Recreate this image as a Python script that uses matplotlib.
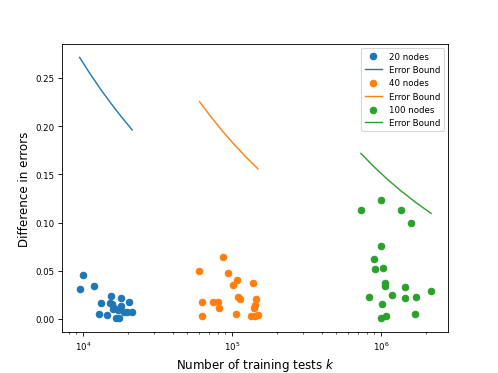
import matplotlib
matplotlib.use("Agg")
import matplotlib.pyplot as plt

# 20 nodes
k20 = [9940, 9540, 11800, 15400, 18100, 13300, 15200, 20400, 16200, 15900,
       17100, 18000, 18900, 19700, 21300, 12800, 14600, 16700, 17500, 15600]
d20 = [0.0458, 0.0310, 0.0344, 0.0234, 0.0213, 0.0169, 0.0169, 0.0172, 0.0117, 0.0103,
       0.0093, 0.0131, 0.0075, 0.0069, 0.0075, 0.0049, 0.0044, 0.0013, 0.0007, 0.0150]
bk20 = [9490, 11200, 13200, 15500, 18200, 21400]
bd20 = [0.2714, 0.2540, 0.2378, 0.2231, 0.2092, 0.1961]

# 40 nodes
k40 = [86700, 60400, 93700, 108000, 101000, 138000, 109000, 113000, 145000, 62400,
       73900, 80300, 82000, 142000, 140000, 63100, 106000, 134000, 143000, 150000]
d40 = [0.0640, 0.0496, 0.0479, 0.0400, 0.0355, 0.0369, 0.0230, 0.0203, 0.0203, 0.0172,
       0.0176, 0.0172, 0.0110, 0.0148, 0.0110, 0.0034, 0.0052, 0.0034, 0.0034, 0.0038]
bk40 = [60400, 72000, 86000, 103000, 124000, 149000]
bd40 = [0.2255, 0.2098, 0.1951, 0.1812, 0.1679, 0.1557]

# 100 nodes
k100 = [989000, 733000, 1365000, 1585000, 993000, 892000, 914000, 1035000, 1062000, 1062000,
        1452000, 2150000, 830000, 1178000, 1452000, 1720000, 1018000, 1680000, 998000, 1080000]
d100 = [0.1229, 0.1129, 0.1129, 0.0995, 0.0757, 0.0623, 0.0517, 0.0527, 0.0369, 0.0344,
        0.0334, 0.0289, 0.0227, 0.0248, 0.0217, 0.0224, 0.0152, 0.0049, 0.0010, 0.0028]
bk100 = [730000, 900000, 1100000, 1350000, 1700000, 2160000]
bd100 = [0.1718, 0.1575, 0.1449, 0.1331, 0.1210, 0.1095]

labels = ["20 nodes", "40 nodes", "100 nodes"]
colors = ["#1f77b4", "#ff7f0e", "#2ca02c"]

fig, ax = plt.subplots(figsize=(498 / 77.8, 374 / 77.8), dpi=77.8)
fig.subplots_adjust(left=0.125, right=0.9, bottom=0.11, top=0.88)

groups = [(k20, d20, bk20, bd20), (k40, d40, bk40, bd40), (k100, d100, bk100, bd100)]
for (k, d, bk, bd), lab, c in zip(groups, labels, colors):
    ax.scatter(k, d, color=c, label=lab)
    ax.plot(bk, bd, color=c, label="Error Bound", lw=1.3)

ax.set_xscale("log")
ax.set_xlim(10 ** 3.861, 10 ** 6.449)
ax.set_ylim(-0.0134, 0.2854)
ax.set_yticks([0.0, 0.05, 0.10, 0.15, 0.20, 0.25])
ax.tick_params(labelsize=8)
ax.set_xlabel("Number of training tests $k$", fontsize=11)
ax.set_ylabel("Difference in errors", fontsize=11)
ax.legend(loc="upper right", fontsize=8)

fig.savefig("out.png", dpi=77.8)
